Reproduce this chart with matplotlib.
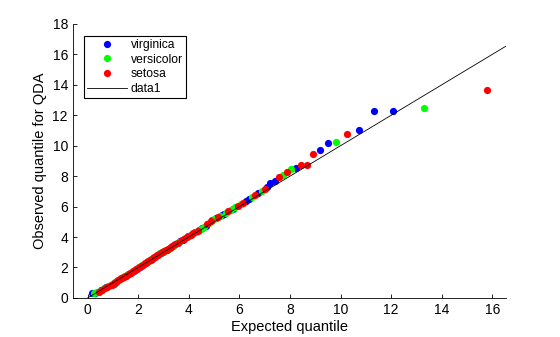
import numpy as np
import matplotlib
matplotlib.use("Agg")
import matplotlib.pyplot as plt

plt.rcParams['font.family'] = ['Liberation Sans', 'DejaVu Sans']

# expected (chi-square) quantiles, sorted, with the observed value and species of each point
expected = [
    0.18, 0.26, 0.30, 0.35, 0.40, 0.43, 0.48, 0.53, 0.58, 0.63, 0.68, 0.72, 0.77, 0.82, 0.86, 0.91,
    0.95, 0.99, 1.02, 1.04, 1.08, 1.12, 1.16, 1.20, 1.24, 1.28, 1.32, 1.36, 1.40, 1.44, 1.48, 1.50,
    1.52, 1.55, 1.59, 1.63, 1.67, 1.71, 1.75, 1.79, 1.83, 1.87, 1.91, 1.95, 1.99, 2.03, 2.07, 2.11,
    2.15, 2.19, 2.23, 2.27, 2.31, 2.35, 2.39, 2.43, 2.47, 2.49, 2.51, 2.55, 2.59, 2.63, 2.67, 2.71,
    2.75, 2.79, 2.83, 2.87, 2.91, 2.95, 2.99, 3.00, 3.03, 3.08, 3.12, 3.16, 3.21, 3.25, 3.29, 3.34,
    3.38, 3.43, 3.47, 3.52, 3.56, 3.61, 3.66, 3.71, 3.76, 3.81, 3.86, 3.91, 3.96, 4.01, 4.07, 4.12,
    4.18, 4.23, 4.29, 4.35, 4.41, 4.47, 4.53, 4.59, 4.66, 4.72, 4.79, 4.86, 4.93, 5.00, 5.08, 5.15,
    5.23, 5.31, 5.39, 5.48, 5.56, 5.65, 5.75, 5.84, 5.94, 6.05, 6.16, 6.27, 6.38, 6.50, 6.62, 6.75,
    6.88, 7.02, 7.10,
    7.21, 7.39, 7.58, 7.73, 7.89, 8.05, 8.24, 8.45, 8.67, 8.91, 9.20, 9.52, 9.83, 10.27, 10.73,
    11.34, 12.09, 13.28, 15.77,
]
observed = [
    0.33, 0.30, 0.32, 0.38, 0.42, 0.40, 0.47, 0.50, 0.55, 0.62, 0.68, 0.70, 0.72, 0.76, 0.80, 0.84,
    0.88, 0.90, 0.93, 0.97, 1.02, 1.06, 1.10, 1.15, 1.20, 1.24, 1.29, 1.33, 1.37, 1.40, 1.42, 1.45,
    1.47, 1.50, 1.54, 1.58, 1.62, 1.66, 1.71, 1.75, 1.79, 1.84, 1.88, 1.92, 1.97, 2.01, 2.05, 2.10,
    2.14, 2.19, 2.23, 2.28, 2.32, 2.36, 2.40, 2.45, 2.49, 2.52, 2.54, 2.58, 2.62, 2.67, 2.71, 2.76,
    2.80, 2.84, 2.89, 2.93, 2.97, 3.01, 3.04, 3.05, 3.08, 3.12, 3.16, 3.20, 3.24, 3.28, 3.33, 3.38,
    3.43, 3.48, 3.53, 3.58, 3.63, 3.68, 3.73, 3.78, 3.83, 3.88, 3.93, 3.98, 4.04, 4.10, 4.16, 4.21,
    4.26, 4.31, 4.36, 4.41, 4.45, 4.50, 4.56, 4.64, 4.75, 4.85, 4.93, 5.02, 5.10, 5.18, 5.24, 5.30,
    5.36, 5.42, 5.50, 5.60, 5.70, 5.78, 5.86, 5.95, 6.05, 6.15, 6.25, 6.36, 6.48, 6.62, 6.74, 6.88,
    7.02, 7.16, 7.28,
    7.55, 7.68, 7.96, 8.09, 8.29, 8.47, 8.53, 8.73, 8.73, 9.47, 9.74, 10.20, 10.26, 10.79, 11.05,
    12.30, 12.30, 12.48, 13.66,
]
species = list(
    "vgvggsgvsgsvsggssg" "vsgssvgsssgssgsvgs" "ssgsvsssgsvsgsgssv" "sgssgvsssgsssgvsss"
    "gsvsgvssgvsgsgvsvs" "gsvgsgsvgsvgvgvsgs" "vgvsgvvgsgvgsgsvvg" "svgsv"
    "vvsgsgvsssvvgsvvvgs"
)
names = {"v": "virginica", "g": "versicolor", "s": "setosa"}
colors = {"v": (0, 0, 1), "g": (0, 1, 0), "s": (1, 0, 0)}

x = np.array(expected)
y = np.array(observed)
sp = np.array(species)

fig = plt.figure(figsize=(5.6, 3.37), dpi=100)
ax = fig.add_axes([0.130, 0.116, 0.774, 0.813])

for key in ["v", "g", "s"]:
    m = sp == key
    ax.plot(x[m], y[m], "o", color=colors[key], markersize=5.2, markeredgewidth=0,
            label=names[key])

xlim = (-0.59, 16.55)
ax.plot(xlim, xlim, "-", color="black", linewidth=0.6, label="data1")

ax.set_xlim(xlim)
ax.set_ylim(0, 18)
ax.set_xticks(range(0, 17, 2))
ax.set_yticks(range(0, 19, 2))
ax.tick_params(direction="in", length=3, labelsize=10, width=0.6)
for side in ["top", "right"]:
    ax.spines[side].set_visible(False)
for side in ["left", "bottom"]:
    ax.spines[side].set_linewidth(0.6)

ax.set_xlabel("Expected quantile", fontsize=10.5, labelpad=2)
ax.set_ylabel("Observed quantile for QDA", fontsize=10.5, labelpad=4)

leg = ax.legend(loc="upper left", bbox_to_anchor=(0.025, 0.956), fontsize=8.7,
                fancybox=False, framealpha=1, edgecolor="black", borderpad=0.25,
                handlelength=3.3, handletextpad=0.35, labelspacing=0.22,
                borderaxespad=0)
leg.get_frame().set_linewidth(0.8)

fig.savefig("out.png", dpi=100)
